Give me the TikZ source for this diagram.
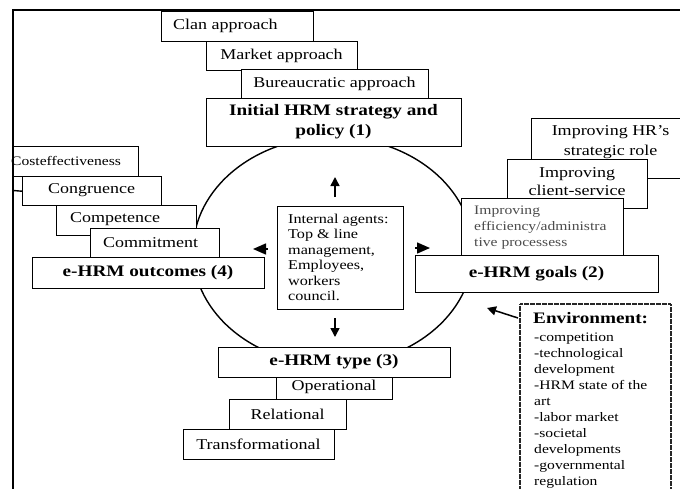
\documentclass[tikz,border=0pt]{standalone}
\usepackage{fontspec}
\setmainfont{Liberation Serif}[FakeStretch=1.2]
\usetikzlibrary{arrows.meta}
\tikzset{
  box/.style={draw, fill=white, line width=1.4pt, inner sep=0pt},
  envbox/.style={draw=black!85, fill=white, line width=1.8pt, dash pattern=on 0.7pt off 0.5pt, inner sep=0pt},
  lbl/.style={inner sep=0pt, font=\fontsize{15}{18}\selectfont},
  blbl/.style={inner sep=0pt, font=\fontsize{16}{20}\selectfont\bfseries},
  slbl/.style={inner sep=0pt, font=\fontsize{13}{16}\selectfont},
  arr/.style={line width=1.5pt, -{Triangle[length=9pt,width=9pt]}},
  sarr/.style={line width=1.5pt, -{Triangle[length=13pt,width=11pt]}},
  frameline/.style={line width=1.4pt}
}
\newcommand\mybox[6][]{\node[box,anchor=north west,minimum width={(#5-#3)*1pt},minimum height={(#6-#4)*1pt},#1] (#2) at (#3,#4) {};}
\begin{document}
\begin{tikzpicture}[x=1pt,y=-1pt]
\useasboundingbox (0,0) rectangle (680,488);
\clip (0,0) rectangle (680,488);
% cycle
\draw[line width=1.4pt] (333,251) ellipse [x radius=140pt, y radius=114pt];
% top stack
\mybox{clan}{161}{11}{313}{41}
\node[lbl,anchor=west] (clanT) at (173,26) {Clan approach};
\mybox{market}{206}{41}{357}{70}
\node[lbl] (marketT) at (281.5,55.5) {Market approach};
\mybox{bureau}{241}{69}{428}{98}
\node[lbl] (bureauT) at (334.5,83.5) {Bureaucratic approach};
\mybox{init}{206}{98}{461}{146}
\node[blbl,align=center] (initT) at (333.5,122) {Initial HRM strategy and\\policy (1)};
% left stack
\mybox{cost}{13}{146}{138}{176}
\node[slbl,anchor=west] (costT) at (11,161) {Costeffectiveness};
\mybox{congr}{22}{176}{161}{205}
\node[lbl] (congrT) at (91.5,190.5) {Congruence};
\mybox{compet}{56}{205}{196}{235}
\node[lbl,anchor=west] (competT) at (70,219) {Competence};
\mybox{commit}{90}{228}{219}{257}
\node[lbl,anchor=west] (commitT) at (103,242.5) {Commitment};
\mybox{outc}{32}{257}{264}{288}
\node[blbl] (outcT) at (148,272.5) {e-HRM outcomes (4)};
% centre
\mybox{agents}{277}{206}{403}{309}
\node[inner sep=0pt,font=\fontsize{13.5}{15.4}\selectfont,anchor=west,align=left] (agentsT) at (288,257.5)
  {Internal agents:\\Top \& line\\management,\\Employees,\\workers\\council.};
\coordinate (upA) at (335,197); \coordinate (upB) at (335,177);
\coordinate (dnA) at (335,318); \coordinate (dnB) at (335,337);
\coordinate (lfA) at (268,249); \coordinate (lfB) at (253,249);
\coordinate (rtA) at (415,248); \coordinate (rtB) at (430,248);
\draw[arr] (upA) -- (upB);
\draw[arr] (dnA) -- (dnB);
\draw[sarr] (lfA) -- (lfB);
\draw[sarr] (rtA) -- (rtB);
% right stack
\mybox{hrrole}{531}{118}{700}{178}
\node[lbl,align=center,font=\fontsize{15}{20}\selectfont] (hrroleT) at (610.5,142) {Improving HR’s\\strategic role};
\mybox{client}{507}{159}{647}{208}
\node[lbl,align=center] (clientT) at (577,181.5) {Improving\\client-service};
\mybox{effic}{461}{198}{623}{255}
\node[slbl,anchor=west,align=left,text=black!70] (efficT) at (474,228) {Improving\\efficiency/administra\\tive processess};
\mybox{goals}{415}{255}{658}{292}
\node[blbl] (goalsT) at (536.5,273.5) {e-HRM goals (2)};
% environment
\node[envbox,anchor=north west,minimum width=151pt,minimum height=210pt] (env) at (519,303) {};
\node[blbl,anchor=west] (envH) at (533,318) {Environment:};
\node[slbl,anchor=west,align=left] (envT) at (534,411)
  {-competition\\-technological\\development\\-HRM state of the\\art\\-labor market\\-societal\\developments\\-governmental\\regulation};
\coordinate (envA) at (518,318); \coordinate (envB) at (487,308);
\draw[arr] (envA) -- (envB);
% bottom stack
\mybox{type}{218}{347}{450}{377}
\node[blbl] (typeT) at (334,362) {e-HRM type (3)};
\mybox{oper}{276}{377}{392}{399}
\node[lbl] (operT) at (334,387) {Operational};
\mybox{rel}{229}{399}{346}{429}
\node[lbl] (relT) at (287.5,414) {Relational};
\mybox{trans}{183}{429}{334}{459}
\node[lbl] (transT) at (258.5,444) {Transformational};
% frame
\draw[frameline] (13,500) -- (13,10) -- (690,10);
\coordinate (frameC) at (13,190.5);
\draw[frameline] (frameC) -- (congr.west);
\end{tikzpicture}
\end{document}
